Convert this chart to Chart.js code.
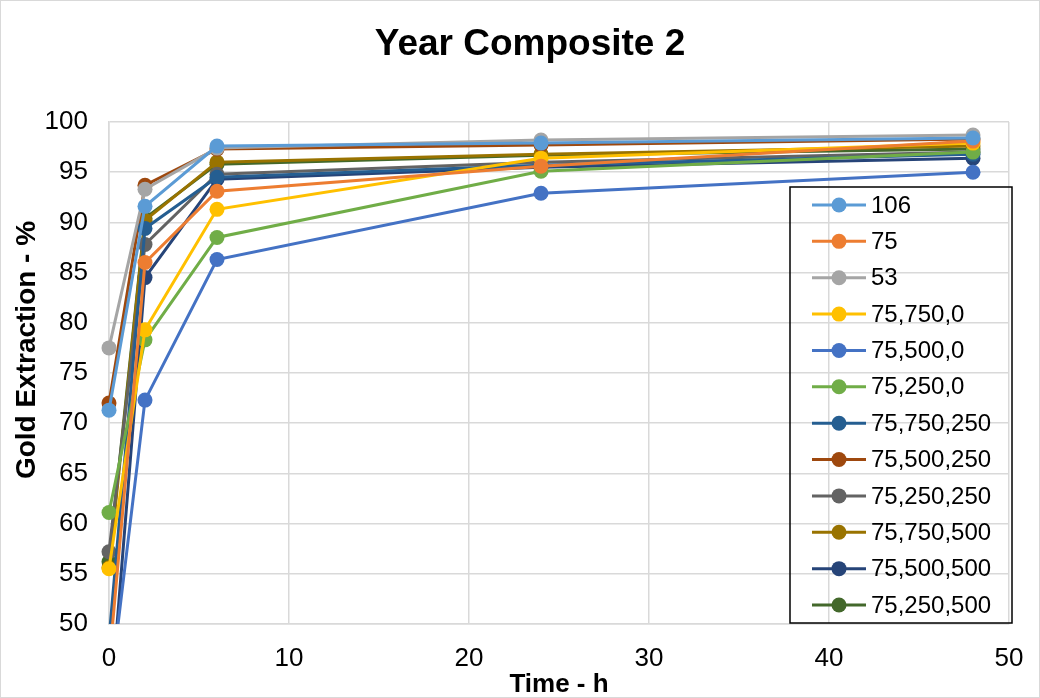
<!DOCTYPE html>
<html>
<head>
<meta charset="utf-8">
<script src="https://cdn.jsdelivr.net/npm/chart.js@4/dist/chart.umd.min.js"></script>
<style>
  html, body { margin: 0; padding: 0; background: #fff; }
  #wrap { width: 1040px; height: 698px; position: relative; }
</style>
</head>
<body>
<div id="wrap"><canvas id="chart"></canvas></div>
<script>
// time in hours
const times = [0, 2, 6, 24, 48];

const names = ['106', '75', '53', '75,750,0', '75,500,0', '75,250,0',
    '75,750,250', '75,500,250', '75,250,250', '75,750,500', '75,500,500', '75,250,500'];

// gold extraction %, one list per series
const s106      = [71.3, 91.6, 97.6, 97.9, 98.4];
const s75       = [46.0, 86.0, 93.1, 95.6, 98.1];
const s53       = [77.5, 93.3, 97.4, 98.2, 98.7];
const s75_750_0 = [55.5, 79.3, 91.3, 96.4, 97.9];
const s75_500_0 = [42.5, 72.3, 86.3, 92.9, 95.0];
const s75_250_0 = [61.1, 78.3, 88.5, 95.1, 97.0];
const s75_750_250 = [48.5, 89.4, 94.5, 95.7, 96.8];
const s75_500_250 = [72.0, 93.7, 97.3, 97.7, 98.3];
const s75_250_250 = [57.2, 87.8, 94.8, 96.0, 97.0];
const s75_750_500 = [55.6, 90.2, 96.0, 96.8, 97.6];
const s75_500_500 = [40.0, 84.5, 94.3, 95.5, 96.4];
const s75_250_500 = [56.2, 90.4, 95.8, 96.7, 97.3];

const seriesValues = [s106, s75, s53, s75_750_0, s75_500_0, s75_250_0,
    s75_750_250, s75_500_250, s75_250_250, s75_750_500, s75_500_500, s75_250_500];

const colors = ['#5B9BD5', '#ED7D31', '#A5A5A5', '#FFC000', '#4472C4', '#70AD47',
    '#255E91', '#9E480E', '#636363', '#997300', '#264478', '#43682B'];

const xTicks = [0, 10, 20, 30, 40, 50];
const yTicks = [50, 55, 60, 65, 70, 75, 80, 85, 90, 95, 100];

const FONT = 'Arial, "Liberation Sans", sans-serif';

const datasets = seriesValues.map((vals, i) => ({
    label: names[i],
    data: vals.map((v, j) => ({ x: times[j], y: v })),
    borderColor: colors[i],
    backgroundColor: colors[i],
    borderWidth: 3,
    pointRadius: 7.5,
    pointHoverRadius: 7.5,
    pointBorderWidth: 0,
    tension: 0,
    clip: { left: 12, top: 12, right: 12, bottom: 0 }
}));

// title, y axis title and the boxed legend inside the plot, like the Excel original
const extras = {
    id: 'extras',
    afterDatasetsDraw(chart) {
        const ctx = chart.ctx;
        const a = chart.chartArea;
        const left = a.right - 219, right = a.right + 3;
        const top = a.top + 65, bottom = a.bottom - 1;
        ctx.save();
        ctx.strokeStyle = '#000';
        ctx.lineWidth = 1.5;
        ctx.strokeRect(left, top, right - left, bottom - top);
        const step = (bottom - top - 36) / (names.length - 1);
        ctx.font = '24px ' + FONT;
        ctx.textBaseline = 'middle';
        names.forEach((n, i) => {
            const y = top + 18 + i * step;
            ctx.strokeStyle = colors[i];
            ctx.lineWidth = 3;
            ctx.beginPath();
            ctx.moveTo(left + 22, y);
            ctx.lineTo(left + 76, y);
            ctx.stroke();
            ctx.fillStyle = colors[i];
            ctx.beginPath();
            ctx.arc(left + 49, y, 7.5, 0, Math.PI * 2);
            ctx.fill();
            ctx.fillStyle = '#000';
            ctx.fillText(n, left + 81, y + 1);
        });
        ctx.restore();
    },
    afterDraw(chart) {
        const ctx = chart.ctx;
        const a = chart.chartArea;
        ctx.save();
        ctx.strokeStyle = '#d9d9d9';
        ctx.lineWidth = 1;
        ctx.strokeRect(0.5, 0.5, chart.width - 1, chart.height - 1);

        ctx.fillStyle = '#000';
        ctx.textAlign = 'center';
        ctx.textBaseline = 'middle';
        ctx.font = 'bold 37px ' + FONT;
        ctx.fillText('Year Composite 2', 530, a.top - 77);

        ctx.translate(27, a.top + 228);
        ctx.rotate(-Math.PI / 2);
        ctx.font = 'bold 28px ' + FONT;
        ctx.fillText('Gold Extraction - %', 0, 0);
        ctx.restore();
    }
};

new Chart(document.getElementById('chart'), {
    type: 'line',
    data: { datasets: datasets },
    options: {
        responsive: true,
        maintainAspectRatio: false,
        animation: false,
        layout: { padding: { left: 0, right: 31, top: 122, bottom: 0 } },
        plugins: {
            legend: { display: false },
            tooltip: { enabled: false },
            title: { display: false }
        },
        scales: {
            x: {
                type: 'linear',
                min: 0,
                max: 50,
                afterBuildTicks: (s) => { s.ticks = xTicks.map(v => ({ value: v })); },
                afterFit: (s) => { s.height = 74; s.paddingRight = 0; s.paddingLeft = 0; },
                grid: { color: '#d9d9d9', lineWidth: 1.5, drawTicks: false },
                border: { color: '#d9d9d9', width: 1.5 },
                ticks: { color: '#000', font: { family: FONT, size: 26 }, padding: 19, maxRotation: 0, autoSkip: false },
                title: {
                    display: true,
                    text: 'Time - h',
                    color: '#000',
                    font: { family: FONT, size: 26, weight: 'bold', lineHeight: 1 },
                    padding: { top: 0, bottom: 0 }
                }
            },
            y: {
                min: 50,
                max: 100,
                afterBuildTicks: (s) => { s.ticks = yTicks.map(v => ({ value: v })); },
                afterFit: (s) => { s.width = 109; },
                grid: { color: '#d9d9d9', lineWidth: 1.5, drawTicks: false },
                border: { color: '#d9d9d9', width: 1.5 },
                ticks: { color: '#000', font: { family: FONT, size: 26 }, padding: 21 }
            }
        }
    },
    plugins: [extras]
});
</script>
</body>
</html>
